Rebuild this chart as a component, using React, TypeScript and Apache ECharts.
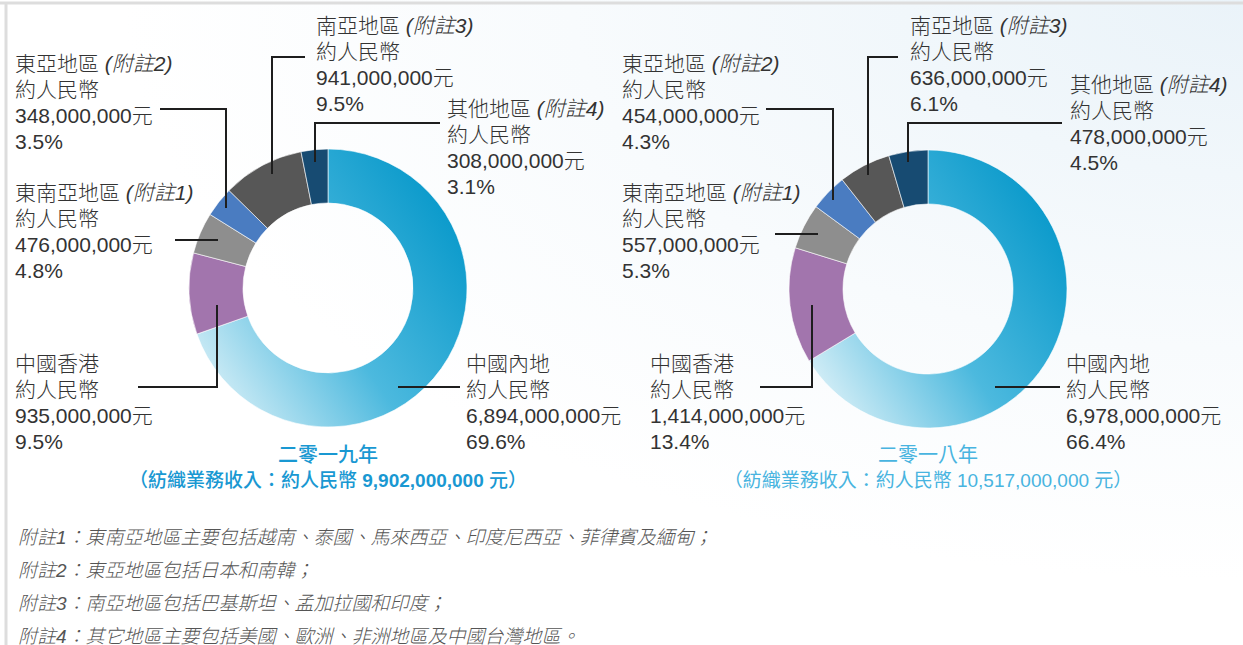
import React, { useEffect, useRef } from "react";
import * as echarts from "echarts";

// ---- data (RMB million) ----
const regions = ["中國內地", "中國香港", "東南亞地區", "東亞地區", "南亞地區", "其他地區"];
const noteNos = ["", "", "1", "2", "3", "4"];
const values2019 = [6894, 935, 476, 348, 941, 308];
const pct2019 = [69.6, 9.5, 4.8, 3.5, 9.5, 3.1];
const values2018 = [6978, 1414, 557, 454, 636, 478];
const pct2018 = [66.4, 13.4, 5.3, 4.3, 6.1, 4.5];
const yearTitles = ["二零一九年", "二零一八年"];
const footnotes = [
  "附註1：東南亞地區主要包括越南、泰國、馬來西亞、印度尼西亞、菲律賓及緬甸；",
  "附註2：東亞地區包括日本和南韓；",
  "附註3：南亞地區包括巴基斯坦、孟加拉國和印度；",
  "附註4：其它地區主要包括美國、歐洲、非洲地區及中國台灣地區。",
];

const FONT = "'Liberation Sans', 'Noto Sans CJK TC', sans-serif";
const TXT = "#333333";

const fmt = (m: number) => (m * 1e6).toLocaleString("en-US") + "元";

// label layouts [x, top] and leader lines, per region order
const layout2019 = {
  center: [328, 288],
  labels: [
    [466, 350],
    [15, 350],
    [15, 179],
    [15, 50],
    [316, 12],
    [447, 95],
  ],
  lines: [
    [[398, 387], [460, 387]],
    [[138, 387], [217, 387], [217, 305]],
    [[175, 240], [218, 240]],
    [[160, 109], [226, 109], [226, 208]],
    [[305, 57], [272, 57], [272, 174]],
    [[440, 123], [315, 123], [315, 162]],
  ],
};
const layout2018 = {
  center: [928, 289],
  labels: [
    [1066, 350],
    [650, 350],
    [622, 179],
    [622, 50],
    [910, 12],
    [1070, 71],
  ],
  lines: [
    [[995, 387], [1060, 387]],
    [[760, 387], [812, 387], [812, 305]],
    [[775, 234], [818, 234]],
    [[766, 109], [833, 109], [833, 200]],
    [[898, 57], [868, 57], [868, 175]],
    [[1062, 123], [908, 123], [908, 162]],
  ],
};

export default function App() {
  const ref = useRef<HTMLDivElement>(null);

  useEffect(() => {
    if (!ref.current) return;
    const chart = echarts.init(ref.current, null, { renderer: "svg" });

    const mainGrad = new echarts.graphic.LinearGradient(0, 0.85, 1, 0.15, [
      { offset: 0, color: "#dcf1f8" },
      { offset: 0.45, color: "#4cb9de" },
      { offset: 1, color: "#0095c8" },
    ]);
    const colors = [mainGrad, "#a275ad", "#8e8e8e", "#4a7cc1", "#575757", "#174b72"];

    const mkSeries = (vals: number[], center: number[]) => ({
      type: "pie",
      center,
      radius: [85, 139],
      startAngle: 90,
      clockwise: true,
      silent: true,
      avoidLabelOverlap: false,
      label: { show: false },
      labelLine: { show: false },
      emphasis: { disabled: true },
      itemStyle: { borderColor: "#ffffff", borderWidth: 0.6 },
      data: vals.map((v, i) => ({
        name: regions[i],
        value: v,
        itemStyle: { color: colors[i] },
      })),
    });

    const graphics: any[] = [];
    // background
    graphics.push({
      type: "rect",
      z: -10,
      shape: { x: 0, y: 0, width: 1243, height: 645 },
      style: {
        fill: new echarts.graphic.RadialGradient(1, 0, 0.9, [
          { offset: 0, color: "#eaf3f9" },
          { offset: 0.6, color: "#f8fbfd" },
          { offset: 1, color: "#ffffff" },
        ]),
      },
    });
    graphics.push({
      type: "line",
      z: -5,
      shape: { x1: 0, y1: 3, x2: 1243, y2: 3 },
      style: { stroke: "#dddddd", lineWidth: 3 },
    });
    graphics.push({
      type: "line",
      z: -5,
      shape: { x1: 6, y1: 3, x2: 6, y2: 645 },
      style: { stroke: "#dddddd", lineWidth: 3 },
    });

    const addLabels = (vals: number[], pcts: number[], lay: any) => {
      vals.forEach((v, i) => {
        const note = noteNos[i] ? ` {it|(附註${noteNos[i]})}` : "";
        const text = `${regions[i]}${note}\n約人民幣\n${fmt(v)}\n${pcts[i].toFixed(1)}%`;
        graphics.push({
          type: "text",
          z: 50,
          x: lay.labels[i][0],
          y: lay.labels[i][1],
          style: {
            text,
            fill: TXT,
            fontSize: 21,
            fontWeight: 300,
            fontFamily: FONT,
            lineHeight: 26,
            verticalAlign: "top",
            align: "left",
            rich: {
              it: {
                fontStyle: "italic",
                fontSize: 21,
                fontWeight: 300,
                fontFamily: FONT,
                fill: TXT,
                lineHeight: 26,
              },
            },
          },
        });
        graphics.push({
          type: "polyline",
          z: 60,
          shape: { points: lay.lines[i] },
          style: { stroke: "#1e1e1e", lineWidth: 2, fill: "none" },
        });
      });
    };
    addLabels(values2019, pct2019, layout2019);
    addLabels(values2018, pct2018, layout2018);

    const sum = (a: number[]) => a.reduce((s, x) => s + x, 0);
    const addTitle = (cx: number, year: string, total: number, color: string, bold: boolean) => {
      graphics.push({
        type: "text",
        z: 50,
        x: cx,
        y: 455,
        style: {
          text: year,
          fill: color,
          fontSize: 20,
          fontFamily: FONT,
          fontWeight: bold ? 500 : "normal",
          align: "center",
          verticalAlign: "middle",
        },
      });
      graphics.push({
        type: "text",
        z: 50,
        x: cx,
        y: 480,
        style: {
          text: `（紡織業務收入：約人民幣 {n|${(total * 1e6).toLocaleString("en-US")}} 元）`,
          fill: color,
          fontSize: 19,
          fontFamily: FONT,
          fontWeight: bold ? 500 : "normal",
          align: "center",
          verticalAlign: "middle",
          rich: {
            n: {
              fontSize: 19,
              fontFamily: FONT,
              fill: color,
              fontWeight: bold ? "bold" : "normal",
            },
          },
        },
      });
    };
    addTitle(layout2019.center[0], yearTitles[0], sum(values2019), "#1998d2", true);
    addTitle(layout2018.center[0], yearTitles[1], sum(values2018), "#48b4e0", false);

    footnotes.forEach((t, i) => {
      graphics.push({
        type: "text",
        z: 50,
        x: 18,
        y: 537 + i * 33,
        style: {
          text: t,
          fill: "#555555",
          fontSize: 19,
          fontWeight: 300,
          fontStyle: "italic",
          fontFamily: FONT,
          verticalAlign: "middle",
          align: "left",
        },
      });
    });

    chart.setOption({
      animation: false,
      backgroundColor: "#ffffff",
      graphic: { elements: graphics },
      series: [mkSeries(values2019, layout2019.center), mkSeries(values2018, layout2018.center)],
    });

    return () => chart.dispose();
  }, []);

  return (
    <div
      ref={ref}
      style={{ position: "absolute", left: 0, top: 0, width: 1243, height: 645 }}
    />
  );
}
